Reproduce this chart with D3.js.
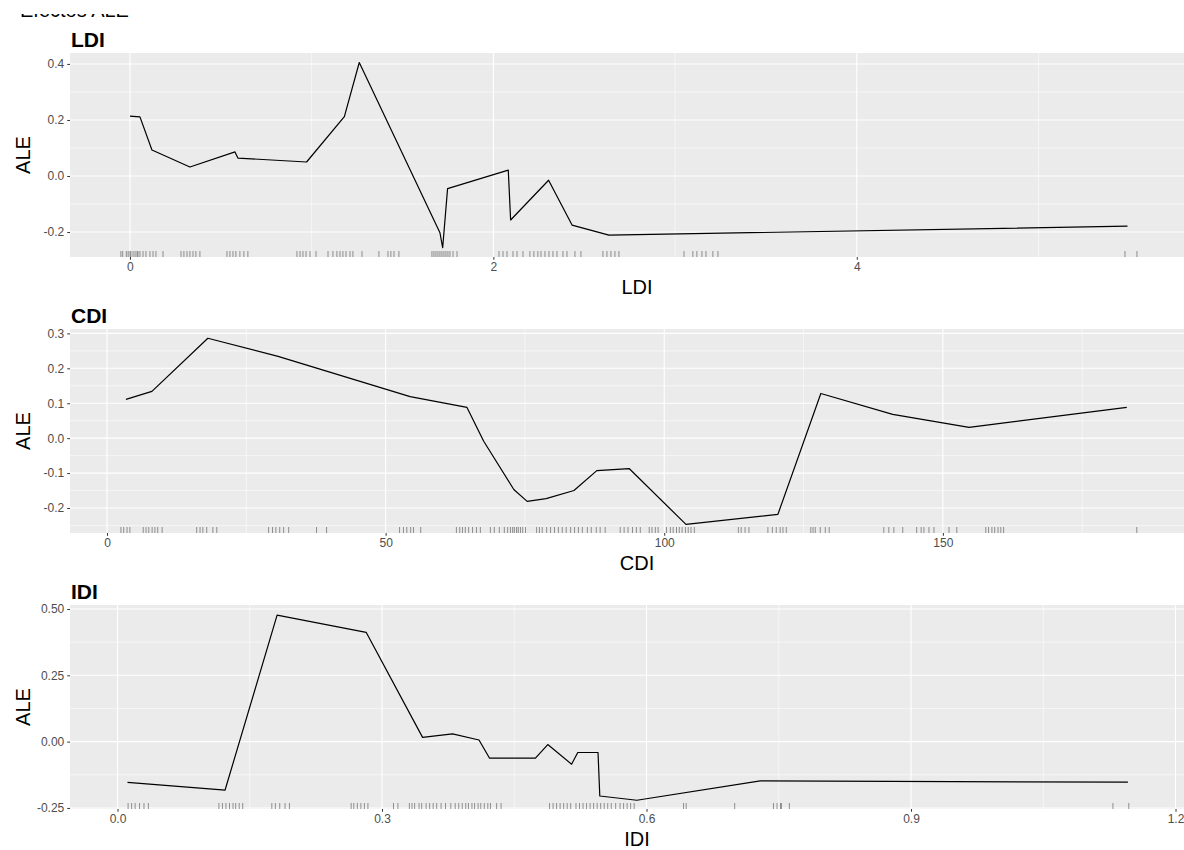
<!DOCTYPE html>
<html>
<head>
<meta charset="utf-8">
<script src="https://cdn.jsdelivr.net/npm/d3@7"></script>
<style>
    body { margin: 0; background: #fff; }
    text { font-family: "Liberation Sans", Arial, sans-serif; }
</style>
</head>
<body>
<div id="dataChart"></div>
<script>
// LDI panel
const ldiX = [0, 0.055, 0.121, 0.33, 0.578, 0.594, 0.972, 1.18, 1.262, 1.706, 1.721, 1.748, 2.082, 2.095, 2.304, 2.433, 2.636, 5.49]
const ldiAle = [0.214, 0.211, 0.093, 0.032, 0.086, 0.064, 0.050, 0.212, 0.405, -0.2025, -0.256, -0.045, 0.021, -0.157, -0.015, -0.175, -0.211, -0.179]
const ldiRug = [-0.05, -0.04, -0.02, -0.01, 0, 0.005, 0.017, 0.028, 0.039, 0.044, 0.055, 0.072, 0.088, 0.11, 0.127, 0.143, 0.182,
    0.281, 0.297, 0.314, 0.33, 0.347, 0.363, 0.385,
    0.534, 0.55, 0.567, 0.583, 0.605, 0.627, 0.649,
    0.919, 0.936, 0.952, 0.969, 0.991, 1.024,
    1.09, 1.117, 1.139, 1.156, 1.172, 1.189, 1.211, 1.227, 1.277,
    1.37, 1.42, 1.436, 1.453, 1.48,
    1.662, 1.673, 1.684, 1.695, 1.706, 1.717, 1.728, 1.739, 1.75, 1.761, 1.778, 1.8,
    2.031, 2.053, 2.075, 2.108, 2.13, 2.163, 2.201, 2.223, 2.245, 2.262, 2.284, 2.306, 2.328, 2.35, 2.383, 2.405, 2.449, 2.482,
    2.603, 2.625, 2.647, 2.669, 2.691,
    3.049, 3.098, 3.12, 3.148, 3.17, 3.208, 3.236,
    5.476, 5.542]
const ldiTicksX = [0, 2, 4]
const ldiMinorX = [1, 3, 5]
const ldiTicksY = [-0.2, 0, 0.2, 0.4]
const ldiMinorY = [-0.1, 0.1, 0.3]

// CDI panel
const cdiX = [3.4, 8.06, 18.1, 30.7, 54.4, 64.6, 67.6, 73.0, 75.4, 78.8, 83.8, 87.9, 93.7, 103.9, 120.4, 128.1, 141, 154.7, 183]
const cdiAle = [0.111, 0.134, 0.286, 0.234, 0.119, 0.088, -0.009, -0.147, -0.181, -0.173, -0.15, -0.093, -0.087, -0.247, -0.218, 0.128, 0.068, 0.031, 0.088]
const cdiRug = [2.5, 3.0, 3.6, 4.1,
    6.5, 7.0, 7.5, 8.1, 8.6, 9.1, 9.9,
    16.1, 16.7, 17.2, 17.9, 19, 19.7,
    29, 29.7, 30.3, 31, 31.7, 32.6,
    37.6, 39.4,
    52.5, 53.2, 53.8, 54.5, 55, 56.3,
    62.7, 63.3, 63.8, 64.3, 64.9, 65.6, 66.3, 67,
    68.8, 69.5, 70.4, 71.3, 71.9, 72.4, 72.8, 73.1, 73.5, 73.8, 74.2, 74.6, 75.1,
    77.1, 77.6, 78.1, 78.9, 79.6, 80.3, 81, 81.7, 82.4, 83.2, 83.9, 84.6, 85.3, 86.2, 86.9, 87.8, 88.5, 89.4,
    92.1, 92.8, 93.5, 94.3, 95, 95.7,
    97.3, 97.8, 98.4, 98.9,
    100.4, 101.1, 101.6, 102.2, 102.7, 103.2, 103.8, 104.3, 104.8, 105.4,
    113.3, 113.8, 114.5, 115.2,
    118.6, 119.4, 120.1, 120.8, 121.3, 121.9,
    126.3, 126.7, 127.1, 128, 128.9, 129.6,
    139.4, 140.3, 141.2, 142.8,
    145.3, 146.1, 146.6, 147.5, 148.4,
    151.1, 152.5,
    157.7, 158.2, 158.8, 159.3, 159.9, 160.4, 160.9,
    184.8]
const cdiTicksX = [0, 50, 100, 150]
const cdiMinorX = [25, 75, 125, 175]
const cdiTicksY = [-0.2, -0.1, 0, 0.1, 0.2, 0.3]
const cdiMinorY = [-0.25, -0.15, -0.05, 0.05, 0.15, 0.25]

// IDI panel
const idiX = [0.0113, 0.122, 0.181, 0.282, 0.346, 0.380, 0.410, 0.422, 0.474, 0.488, 0.515, 0.522, 0.545, 0.547, 0.589, 0.729, 1.146]
const idiAle = [-0.154, -0.1825, 0.477, 0.412, 0.016, 0.029, 0.006, -0.0625, -0.0625, -0.011, -0.085, -0.041, -0.041, -0.205, -0.221, -0.148, -0.153]
const idiRug = [0.012, 0.016, 0.02, 0.025, 0.03, 0.035,
    0.115, 0.119, 0.123, 0.127, 0.131, 0.134, 0.138, 0.142,
    0.175, 0.179, 0.184, 0.19, 0.195,
    0.265, 0.268, 0.272, 0.276, 0.28, 0.284,
    0.313, 0.318,
    0.331, 0.334, 0.337, 0.342, 0.345, 0.35, 0.354, 0.358, 0.362, 0.367, 0.372,
    0.378, 0.383, 0.387, 0.391, 0.395, 0.398, 0.402, 0.405, 0.409, 0.412, 0.416, 0.42, 0.423, 0.43, 0.435,
    0.49, 0.494, 0.498, 0.502, 0.506, 0.51, 0.514,
    0.52, 0.524, 0.528, 0.532, 0.536, 0.54, 0.544, 0.548, 0.552, 0.556, 0.56, 0.565, 0.57, 0.574, 0.578, 0.582, 0.586,
    0.642, 0.645, 0.7,
    0.744, 0.748, 0.752, 0.753, 0.762,
    1.129, 1.147]
const idiTicksX = [0, 0.3, 0.6, 0.9, 1.2]
const idiMinorX = [0.15, 0.45, 0.75, 1.05]
const idiTicksY = [-0.25, 0, 0.25, 0.5]
const idiMinorY = [-0.125, 0.125, 0.375]

document.addEventListener('DOMContentLoaded', (event) => {
    onLoad()
});

function onLoad() {
    const viewBoxWidth = 1184
    const viewBoxHeight = 850
    const panelLeft = 70
    const panelRight = 1204
    const panelHeight = 204

    const svg = d3.select('#dataChart')
        .append('svg')
        .attr('width', viewBoxWidth)
        .attr('height', viewBoxHeight)
        .attr('viewBox', [0, 0, viewBoxWidth, viewBoxHeight])

    // figure title, cropped at the top edge: only its lowest pixels show
    svg.append('text')
        .attr('x', 20)
        .attr('y', 17)
        .attr('font-size', '20px')
        .attr('fill', '#000')
        .text('Efectos ALE')
    svg.append('rect')
        .attr('x', 0).attr('y', 0)
        .attr('width', 300).attr('height', 14)
        .attr('fill', '#fff')

    const panels = [
        { name: 'LDI', top: 53, xs: ldiX, ys: ldiAle, rug: ldiRug, xDomain: [-0.330, 5.911], yDomain: [-0.289, 0.439],
          ticksX: ldiTicksX, minorX: ldiMinorX, ticksY: ldiTicksY, minorY: ldiMinorY, fmtX: d3.format('d'), fmtY: d3.format('.1f') },
        { name: 'CDI', top: 329, xs: cdiX, ys: cdiAle, rug: cdiRug, xDomain: [-6.64, 196.86], yDomain: [-0.2716, 0.3126],
          ticksX: cdiTicksX, minorX: cdiMinorX, ticksY: cdiTicksY, minorY: cdiMinorY, fmtX: d3.format('d'), fmtY: d3.format('.1f') },
        { name: 'IDI', top: 605, xs: idiX, ys: idiAle, rug: idiRug, xDomain: [-0.0539, 1.2323], yDomain: [-0.254, 0.515],
          ticksX: idiTicksX, minorX: idiMinorX, ticksY: idiTicksY, minorY: idiMinorY, fmtX: d3.format('.1f'), fmtY: d3.format('.2f') },
    ]

    panels.forEach(p => drawPanel(p))

    function drawPanel(p) {
        const bottom = p.top + panelHeight
        const x = d3.scaleLinear().domain(p.xDomain).range([panelLeft, panelRight])
        const y = d3.scaleLinear().domain(p.yDomain).range([bottom, p.top])
        const g = svg.append('g').attr('class', 'panel')

        // background
        g.append('rect')
            .attr('x', panelLeft).attr('y', p.top)
            .attr('width', panelRight - panelLeft).attr('height', panelHeight)
            .attr('fill', '#EBEBEB')

        // grid
        g.selectAll('.minor-x').data(p.minorX).enter().append('line')
            .attr('x1', d => x(d)).attr('x2', d => x(d)).attr('y1', p.top).attr('y2', bottom)
            .attr('stroke', '#fff').attr('stroke-width', 0.55)
        g.selectAll('.minor-y').data(p.minorY).enter().append('line')
            .attr('x1', panelLeft).attr('x2', panelRight).attr('y1', d => y(d)).attr('y2', d => y(d))
            .attr('stroke', '#fff').attr('stroke-width', 0.55)
        g.selectAll('.major-x').data(p.ticksX).enter().append('line')
            .attr('x1', d => x(d)).attr('x2', d => x(d)).attr('y1', p.top).attr('y2', bottom)
            .attr('stroke', '#fff').attr('stroke-width', 1.1)
        g.selectAll('.major-y').data(p.ticksY).enter().append('line')
            .attr('x1', panelLeft).attr('x2', panelRight).attr('y1', d => y(d)).attr('y2', d => y(d))
            .attr('stroke', '#fff').attr('stroke-width', 1.1)

        // rug
        g.append('g').selectAll('line').data(p.rug).enter().append('line')
            .attr('x1', d => x(d)).attr('x2', d => x(d))
            .attr('y1', bottom - 6).attr('y2', bottom)
            .attr('stroke', '#000').attr('stroke-opacity', 0.45).attr('stroke-width', 0.9)

        // ALE line
        const pts = p.xs.map((v, i) => [v, p.ys[i]])
        g.append('path')
            .datum(pts)
            .attr('fill', 'none')
            .attr('stroke', '#000')
            .attr('stroke-width', 1.2)
            .attr('stroke-linejoin', 'round')
            .attr('d', d3.line().x(d => x(d[0])).y(d => y(d[1])))

        // axes
        const xAxis = g.append('g')
            .attr('transform', `translate(0, ${bottom})`)
            .call(d3.axisBottom(x).tickValues(p.ticksX).tickFormat(p.fmtX).tickSize(2.75).tickPadding(3))
        const yAxis = g.append('g')
            .attr('transform', `translate(${panelLeft}, 0)`)
            .call(d3.axisLeft(y).tickValues(p.ticksY).tickFormat(p.fmtY).tickSize(2.75).tickPadding(3))
        ;[xAxis, yAxis].forEach(a => {
            a.select('.domain').remove()
            a.selectAll('.tick line').attr('stroke', '#333333').attr('stroke-width', 1)
            a.selectAll('.tick text')
                .attr('fill', '#4D4D4D')
                .attr('font-size', '12px')
                .attr('font-family', '"Liberation Sans", Arial, sans-serif')
        })
        yAxis.selectAll('.tick text').text(d => p.fmtY(d).replace('\u2212', '-'))

        // titles
        g.append('text')
            .attr('x', panelLeft + 1)
            .attr('y', p.top - 6)
            .attr('font-size', '21px')
            .attr('font-weight', 'bold')
            .attr('fill', '#000')
            .text(p.name)
        g.append('text')
            .attr('x', (panelLeft + panelRight) / 2)
            .attr('y', bottom + 37)
            .attr('text-anchor', 'middle')
            .attr('font-size', '20px')
            .attr('fill', '#000')
            .text(p.name)
        g.append('text')
            .attr('transform', `translate(30, ${p.top + panelHeight / 2}) rotate(-90)`)
            .attr('text-anchor', 'middle')
            .attr('font-size', '20px')
            .attr('fill', '#000')
            .text('ALE')
    }
}
</script>
</body>
</html>
